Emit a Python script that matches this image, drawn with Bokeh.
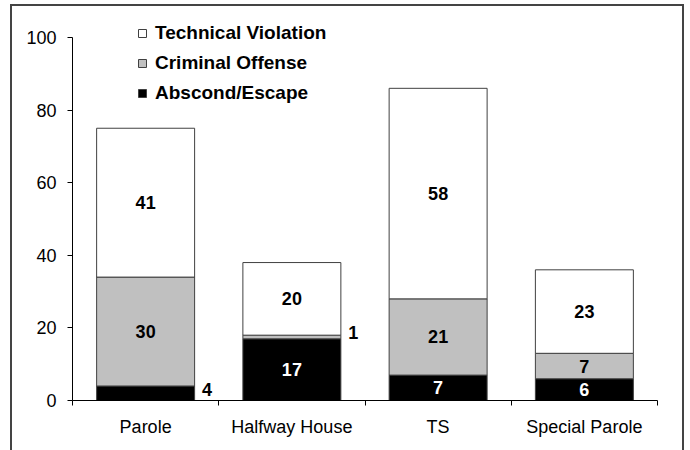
from bokeh.plotting import figure
from bokeh.models import Range1d, FixedTicker, ColumnDataSource, Legend, LegendItem
from bokeh.core.properties import value
from bokeh.embed import file_html
from bokeh.resources import INLINE

# ---- data ----
categories = ["Parole", "Halfway House", "TS", "Special Parole"]
series_names = ["Abscond/Escape", "Criminal Offense", "Technical Violation"]
abscond = [4, 17, 7, 6]
criminal = [30, 1, 21, 7]
technical = [41, 20, 58, 23]
y_ticks = [0, 20, 40, 60, 80, 100]

# ---- styles ----
FONT = "Liberation Sans"
colors = ["#000000", "#c0c0c0", "#ffffff"]
label_colors = ["#ffffff", "#000000", "#000000"]
W, H = 674, 446
ML, MT = 10, 4          # canvas offset on the page
FL, FR, FT, FB = 72, 657, 15, 400   # frame edges (page px)
EDGE = "#444444"

p = figure(width=W, height=H, output_backend="svg", toolbar_location=None,
           x_range=Range1d(0, len(categories)), y_range=Range1d(0, 106.06),
           min_border_left=FL - ML, min_border_right=W - (FR - ML),
           min_border_top=FT - MT, min_border_bottom=H - (FB - MT),
           background_fill_color="white", border_fill_alpha=0,
           margin=(MT, 0, 0, ML),
           styles={"background-color": "white",
                   "box-shadow": f"inset 2px 0 0 {EDGE}, inset -2px 0 0 {EDGE}, inset 0 2px 0 {EDGE}"})
p.outline_line_color = None
p.xgrid.visible = False
p.ygrid.visible = False

series_values = [abscond, criminal, technical]
keys = ["abscond", "criminal", "technical"]
xs = [i + 0.5 for i in range(len(categories))]
src = ColumnDataSource(dict(x=xs, abscond=abscond, criminal=criminal, technical=technical))
rends = p.vbar_stack(keys, x="x", width=0.67, source=src, fill_color=colors,
                     line_color="#404040", line_width=1)

# ---- value labels ----
lx, ly, lt, lc, lo = [], [], [], [], []
for i in range(len(categories)):
    base = 0
    for s, vals in enumerate(series_values):
        v = vals[i]
        mid = base + v / 2
        if v < 5:
            lx.append(xs[i] + 0.42)
            lc.append("#000000")
            lo.append(-4)
        else:
            lx.append(xs[i])
            lc.append(label_colors[s])
            lo.append(0)
        ly.append(mid)
        lt.append(str(v))
        base += v
lsrc = ColumnDataSource(dict(x=lx, y=ly, t=lt, c=lc, o=lo))
p.text(x="x", y="y", text="t", text_color="c", y_offset="o", source=lsrc,
       text_font=value(FONT), text_font_size="18px", text_font_style="bold",
       text_align="center", text_baseline="middle")

# ---- axes ----
xa = p.xaxis[0]
xa.ticker = FixedTicker(ticks=xs, minor_ticks=list(range(len(categories) + 1)))
xa.major_label_overrides = {x: c for x, c in zip(xs, categories)}
xa.major_tick_line_color = None
xa.major_tick_out = 0
xa.major_tick_in = 0
xa.minor_tick_out = 5
xa.minor_tick_in = 0
xa.minor_tick_line_color = "black"
xa.axis_line_color = "black"
xa.major_label_text_font = FONT
xa.major_label_text_font_size = "18px"
xa.major_label_text_color = "black"
xa.major_label_standoff = 11

ya = p.yaxis[0]
ya.ticker = FixedTicker(ticks=y_ticks)
ya.bounds = (0, 100)
ya.major_tick_out = 5
ya.major_tick_in = 0
ya.minor_tick_line_color = None
ya.axis_line_color = "black"
ya.major_tick_line_color = "black"
ya.major_label_text_font = FONT
ya.major_label_text_font_size = "18px"
ya.major_label_text_color = "black"
ya.major_label_standoff = 11

# ---- legend ----
items = [LegendItem(label=series_names[k], renderers=[rends[k]]) for k in (2, 1, 0)]
legend = Legend(items=items, location=(65, FB - 22.3 - 82), orientation="vertical",
                padding=0, margin=0, spacing=8, label_height=22, glyph_height=10,
                glyph_width=10, label_standoff=8, border_line_color=None,
                background_fill_alpha=0, label_text_font=FONT,
                label_text_font_size="19px", label_text_font_style="bold",
                label_text_color="black")
p.add_layout(legend)

open("out.html", "w").write(file_html(p, INLINE))
